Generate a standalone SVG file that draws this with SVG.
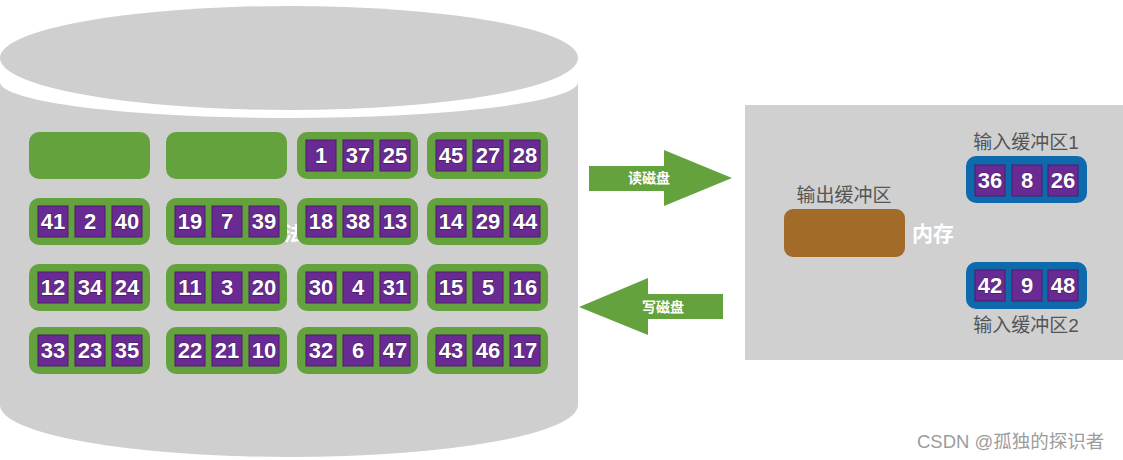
<svg xmlns="http://www.w3.org/2000/svg" width="1123" height="460" viewBox="0 0 1123 460">
<style>
.cyl{fill:#cfcfcf}
.blk{fill:#63a23d}
.cell{fill:#6a2a93;stroke:#4a1c68;stroke-width:1}
.num{font-family:"Liberation Sans",Arial,sans-serif;font-weight:bold;font-size:22px;fill:#ffffff;stroke:#3a1550;stroke-width:0.8;paint-order:stroke;text-anchor:middle}
.arr{fill:#63a23d}
.albl{font-family:"Liberation Sans","Noto Sans CJK SC",sans-serif;font-weight:bold;font-size:14px;fill:#ffffff;text-anchor:middle}
.glbl{font-family:"Liberation Sans","Noto Sans CJK SC",sans-serif;font-size:19px;fill:#555555;text-anchor:middle}
.blue{fill:#0f69ad}
.wm{font-family:"Liberation Sans","Noto Sans CJK SC",sans-serif;font-size:18.5px;fill:#9c9c9c}
</style>
<rect width="1123" height="460" fill="#ffffff"/>
<g id="disk">
<path class="cyl" d="M0,82 A289,36 0 0 0 578,82 L578,405 A289,52 0 0 1 0,405 Z"/>
<ellipse class="cyl" cx="289" cy="58" rx="289" ry="52"/>
<text x="284" y="241" font-family="Liberation Sans,Noto Sans CJK SC,sans-serif" font-weight="bold" font-size="19" fill="#ffffff">法</text>
</g>
<g id="blocks">
<g id="b11"><rect class="blk" x="29" y="132" width="121" height="47" rx="10"/></g>
<g id="b12"><rect class="blk" x="166" y="132" width="121" height="47" rx="10"/></g>
<g id="b13"><rect class="blk" x="297" y="132" width="121" height="47" rx="10"/>
<rect class="cell" x="306" y="140" width="30" height="31"/><rect class="cell" x="343" y="140" width="30" height="31"/><rect class="cell" x="380" y="140" width="30" height="31"/>
<text class="num" x="321" y="163">1</text><text class="num" x="358" y="163">37</text><text class="num" x="395" y="163">25</text></g>
<g id="b14"><rect class="blk" x="427" y="132" width="121" height="47" rx="10"/>
<rect class="cell" x="436" y="140" width="30" height="31"/><rect class="cell" x="473" y="140" width="30" height="31"/><rect class="cell" x="510" y="140" width="30" height="31"/>
<text class="num" x="451" y="163">45</text><text class="num" x="488" y="163">27</text><text class="num" x="525" y="163">28</text></g>

<g id="b21"><rect class="blk" x="29" y="198" width="121" height="47" rx="10"/>
<rect class="cell" x="38" y="206" width="30" height="31"/><rect class="cell" x="75" y="206" width="30" height="31"/><rect class="cell" x="112" y="206" width="30" height="31"/>
<text class="num" x="53" y="229">41</text><text class="num" x="90" y="229">2</text><text class="num" x="127" y="229">40</text></g>
<g id="b22"><rect class="blk" x="166" y="198" width="121" height="47" rx="10"/>
<rect class="cell" x="175" y="206" width="30" height="31"/><rect class="cell" x="212" y="206" width="30" height="31"/><rect class="cell" x="249" y="206" width="30" height="31"/>
<text class="num" x="190" y="229">19</text><text class="num" x="227" y="229">7</text><text class="num" x="264" y="229">39</text></g>
<g id="b23"><rect class="blk" x="297" y="198" width="121" height="47" rx="10"/>
<rect class="cell" x="306" y="206" width="30" height="31"/><rect class="cell" x="343" y="206" width="30" height="31"/><rect class="cell" x="380" y="206" width="30" height="31"/>
<text class="num" x="321" y="229">18</text><text class="num" x="358" y="229">38</text><text class="num" x="395" y="229">13</text></g>
<g id="b24"><rect class="blk" x="427" y="198" width="121" height="47" rx="10"/>
<rect class="cell" x="436" y="206" width="30" height="31"/><rect class="cell" x="473" y="206" width="30" height="31"/><rect class="cell" x="510" y="206" width="30" height="31"/>
<text class="num" x="451" y="229">14</text><text class="num" x="488" y="229">29</text><text class="num" x="525" y="229">44</text></g>

<g id="b31"><rect class="blk" x="29" y="264" width="121" height="47" rx="10"/>
<rect class="cell" x="38" y="272" width="30" height="31"/><rect class="cell" x="75" y="272" width="30" height="31"/><rect class="cell" x="112" y="272" width="30" height="31"/>
<text class="num" x="53" y="295">12</text><text class="num" x="90" y="295">34</text><text class="num" x="127" y="295">24</text></g>
<g id="b32"><rect class="blk" x="166" y="264" width="121" height="47" rx="10"/>
<rect class="cell" x="175" y="272" width="30" height="31"/><rect class="cell" x="212" y="272" width="30" height="31"/><rect class="cell" x="249" y="272" width="30" height="31"/>
<text class="num" x="190" y="295">11</text><text class="num" x="227" y="295">3</text><text class="num" x="264" y="295">20</text></g>
<g id="b33"><rect class="blk" x="297" y="264" width="121" height="47" rx="10"/>
<rect class="cell" x="306" y="272" width="30" height="31"/><rect class="cell" x="343" y="272" width="30" height="31"/><rect class="cell" x="380" y="272" width="30" height="31"/>
<text class="num" x="321" y="295">30</text><text class="num" x="358" y="295">4</text><text class="num" x="395" y="295">31</text></g>
<g id="b34"><rect class="blk" x="427" y="264" width="121" height="47" rx="10"/>
<rect class="cell" x="436" y="272" width="30" height="31"/><rect class="cell" x="473" y="272" width="30" height="31"/><rect class="cell" x="510" y="272" width="30" height="31"/>
<text class="num" x="451" y="295">15</text><text class="num" x="488" y="295">5</text><text class="num" x="525" y="295">16</text></g>

<g id="b41"><rect class="blk" x="29" y="327" width="121" height="47" rx="10"/>
<rect class="cell" x="38" y="335" width="30" height="31"/><rect class="cell" x="75" y="335" width="30" height="31"/><rect class="cell" x="112" y="335" width="30" height="31"/>
<text class="num" x="53" y="358">33</text><text class="num" x="90" y="358">23</text><text class="num" x="127" y="358">35</text></g>
<g id="b42"><rect class="blk" x="166" y="327" width="121" height="47" rx="10"/>
<rect class="cell" x="175" y="335" width="30" height="31"/><rect class="cell" x="212" y="335" width="30" height="31"/><rect class="cell" x="249" y="335" width="30" height="31"/>
<text class="num" x="190" y="358">22</text><text class="num" x="227" y="358">21</text><text class="num" x="264" y="358">10</text></g>
<g id="b43"><rect class="blk" x="297" y="327" width="121" height="47" rx="10"/>
<rect class="cell" x="306" y="335" width="30" height="31"/><rect class="cell" x="343" y="335" width="30" height="31"/><rect class="cell" x="380" y="335" width="30" height="31"/>
<text class="num" x="321" y="358">32</text><text class="num" x="358" y="358">6</text><text class="num" x="395" y="358">47</text></g>
<g id="b44"><rect class="blk" x="427" y="327" width="121" height="47" rx="10"/>
<rect class="cell" x="436" y="335" width="30" height="31"/><rect class="cell" x="473" y="335" width="30" height="31"/><rect class="cell" x="510" y="335" width="30" height="31"/>
<text class="num" x="451" y="358">43</text><text class="num" x="488" y="358">46</text><text class="num" x="525" y="358">17</text></g>
</g>
<g id="connectors">
<g id="read">
<polygon class="arr" points="589,166 664,166 664,150 732,178 664,206 664,191 589,191"/>
<text class="albl" x="649" y="183">读磁盘</text>
</g>
<g id="write">
<polygon class="arr" points="723,294 648,294 648,278 579,307 648,335 648,319 723,319"/>
<text class="albl" x="663" y="312">写磁盘</text>
</g>
</g>
<g id="memory">
<rect x="745" y="105" width="378" height="255" fill="#d0d0d0"/>
<text x="912" y="241" font-family="Liberation Sans,Noto Sans CJK SC,sans-serif" font-weight="bold" font-size="21" fill="#ffffff">内存</text>
</g>
<g id="outbuf">
<text class="glbl" x="844" y="202">输出缓冲区</text>
<rect x="784" y="209" width="121" height="48" rx="9" fill="#a26b29"/>
</g>
<g id="inbuf1">
<text class="glbl" x="1026" y="149">输入缓冲区1</text>
<rect class="blue" x="966" y="156" width="121" height="47" rx="10"/>
<rect class="cell" x="975" y="165" width="30" height="31"/><rect class="cell" x="1012" y="165" width="30" height="31"/><rect class="cell" x="1048" y="165" width="30" height="31"/>
<text class="num" x="990" y="188">36</text><text class="num" x="1027" y="188">8</text><text class="num" x="1063" y="188">26</text>
</g>
<g id="inbuf2">
<rect class="blue" x="966" y="262" width="121" height="47" rx="10"/>
<rect class="cell" x="975" y="270" width="30" height="31"/><rect class="cell" x="1012" y="270" width="30" height="31"/><rect class="cell" x="1048" y="270" width="30" height="31"/>
<text class="num" x="990" y="293">42</text><text class="num" x="1027" y="293">9</text><text class="num" x="1063" y="293">48</text>
<text class="glbl" x="1026" y="332">输入缓冲区2</text>
</g>
<text class="wm" x="917" y="448">CSDN @孤独的探识者</text>
</svg>
